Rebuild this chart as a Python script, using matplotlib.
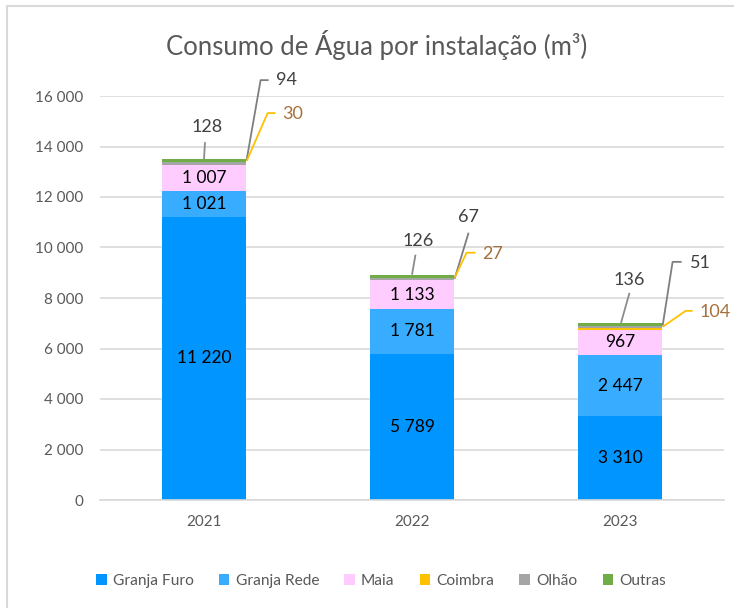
import numpy as np
import matplotlib
matplotlib.use("Agg")
from matplotlib import pyplot as plt
from matplotlib.patches import Patch, Rectangle

plt.rcParams['font.family'] = ['Lato', 'DejaVu Sans']

# data
years = ['2021', '2022', '2023']
series = ['Granja Furo', 'Granja Rede', 'Maia', 'Coimbra', 'Olhão', 'Outras']
granja_furo = [11220, 5789, 3310]
granja_rede = [1021, 1781, 2447]
maia = [1007, 1133, 967]
coimbra = [30, 27, 104]
olhao = [94, 67, 51]
outras = [128, 126, 136]

colors = ['#0095FF', '#38ADFF', '#FFCCFF', '#FFC000', '#A5A5A5', '#70AD47']

W, H = 734, 608
fig = plt.figure(figsize=(W / 100, H / 100), dpi=100)
ax = fig.add_axes([100 / W, 108 / H, 624 / W, 404 / H])

def fmt(v):
    return f"{v:,}".replace(",", " ")

x = np.arange(len(years))
bw = 0.4
values = [granja_furo, granja_rede, maia, coimbra, olhao, outras]
bottom = np.zeros(len(years))
for vals, col in zip(values, colors):
    ax.bar(x, vals, bw, bottom=bottom, color=col, linewidth=0, zorder=2)
    bottom += np.array(vals)
tops = bottom.copy()

# labels inside the three big segments
base = np.zeros(len(years))
for vals in values[:3]:
    for i, v in enumerate(vals):
        ax.text(x[i], base[i] + v / 2, fmt(v), ha='center', va='center',
                fontsize=12.5, color='black', zorder=4)
    base += np.array(vals)

ax.set_xlim(-0.5, 2.5)
ax.set_ylim(0, 16000)
ax.set_yticks(np.arange(0, 16001, 2000))
ax.yaxis.set_major_formatter(lambda v, p: fmt(int(v)))
ax.set_xticks(x)
ax.set_xticklabels(years)
ax.tick_params(axis='both', length=0, labelsize=11, colors='#595959')
ax.tick_params(axis='y', pad=12)
ax.tick_params(axis='x', pad=11)
ax.grid(axis='y', color='#D9D9D9', linewidth=1.2, zorder=0)
for s in ['top', 'right', 'left']:
    ax.spines[s].set_visible(False)
ax.spines['bottom'].set_color('#D9D9D9')
ax.spines['bottom'].set_linewidth(1.2)

# pixel -> data conversion for leader lines
sx = 1 / 208.0
sy = 16000 / 404.0

def line_px(x0, y0, pts, color):
    xs = [x0 + p[0] * sx for p in pts]
    ys = [y0 - p[1] * sy for p in pts]
    ax.plot(xs, ys, color=color, linewidth=1.3, zorder=3, clip_on=False,
            solid_capstyle='butt')

# callout layouts, in pixels from the anchor (right edge / top of bar)
olhao_lines = [[(1, 1), (15, -79), (23, -79)],
               [(1, 4), (15, -42)],
               [(1, 3), (11, -61), (20, -61)]]
olhao_text = [(30, -79, 'left'), (15, -58, 'center'), (28, -60, 'left')]
coimbra_lines = [[(1, 2), (22, -46), (30, -46)],
                 [(1, 3), (13, -22), (22, -22)],
                 [(1, 4), (24, -12), (31, -12)]]
coimbra_text = [(37, -45, 'left'), (29, -21, 'left'), (38, -11, 'left')]
outras_lines = [[(0, 0), (1, -17)],
                [(0, 0), (3.5, -20)],
                [(1, 0), (9.5, -30)]]
outras_text = [(2.7, -32), (5.8, -34), (9.5, -43)]

for i in range(len(years)):
    xr = x[i] + bw / 2
    t = tops[i]
    line_px(xr, t, olhao_lines[i], '#7F7F7F')
    line_px(xr, t, coimbra_lines[i], '#FFC000')
    line_px(x[i], t, outras_lines[i], '#8C8C8C')
    ox, oy, ha = olhao_text[i]
    ax.text(xr + ox * sx, t - oy * sy, fmt(olhao[i]), ha=ha, va='center',
            fontsize=13, color='#404040', zorder=4)
    ox, oy, ha = coimbra_text[i]
    ax.text(xr + ox * sx, t - oy * sy, fmt(coimbra[i]), ha=ha, va='center',
            fontsize=13, color='#A6703C', zorder=4)
    ox, oy = outras_text[i]
    ax.text(x[i] + ox * sx, t - oy * sy, fmt(outras[i]), ha='center', va='center',
            fontsize=13, color='#404040', zorder=4)

fig.text(377 / W, 1 - 45 / H, 'Consumo de Água por instalação (m³)',
         ha='center', va='center', fontsize=18.5, color='#595959')

handles = [Patch(facecolor=c, edgecolor='none') for c in colors]
fig.legend(handles, series, loc='center', bbox_to_anchor=(381 / W, 1 - 581 / H),
           ncol=6, frameon=False, fontsize=11.2, handlelength=0.7, handleheight=0.7,
           handletextpad=0.4, columnspacing=1.6, labelcolor='#595959')

fig.patches.append(Rectangle((7 / W, -0.1), 1.2, 1 - 6 / H + 0.1, transform=fig.transFigure,
                             fill=False, edgecolor='#D9D9D9', linewidth=1.5))

fig.savefig('out.png', dpi=100)
